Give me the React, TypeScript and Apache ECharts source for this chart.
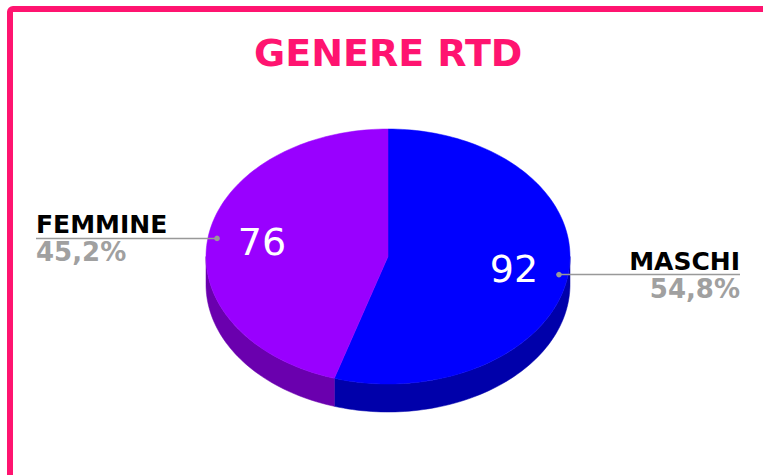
import React, { useEffect, useRef } from "react";
import * as echarts from "echarts";

const categories = ["MASCHI", "FEMMINE"];
const values = [92, 76];
const topColors = ["#0000FF", "#9900FF"];
const sideColors = ["#0000AA", "#6A00AE"];
const titleText = "GENERE RTD";

const CX = 388;
const CY = 256.5;
const RX = 182;
const RY = 127.5;
const DEPTH = 28;
const LEFT_END = 36;
const RIGHT_END = 740;

const total = values.reduce((a, b) => a + b, 0);

function pt(theta: number, r: number, dz: number): number[] {
  return [CX + r * RX * Math.sin(theta), CY - r * RY * Math.cos(theta) + dz];
}

function arc(s: number, e: number, dz: number): number[][] {
  const pts: number[][] = [];
  const n = Math.max(4, Math.ceil(((e - s) / (2 * Math.PI)) * 240));
  for (let k = 0; k <= n; k++) {
    pts.push(pt(s + ((e - s) * k) / n, 1, dz));
  }
  return pts;
}

function fmtPct(v: number): string {
  return ((v / total) * 100).toFixed(1).replace(".", ",") + "%";
}

export default function App() {
  const ref = useRef<HTMLDivElement>(null);
  useEffect(() => {
    if (!ref.current) return;
    const chart = echarts.init(ref.current, null, { renderer: "svg" });
    const renderItem = (params: any, api: any) => {
      const i = params.dataIndex;
      const v = api.value(0);
      let before = 0;
      for (let k = 0; k < i; k++) before += values[k];
      const s = (before / total) * Math.PI * 2;
      const e = ((before + v) / total) * Math.PI * 2;
      const children: any[] = [];
      const fs = Math.max(s, Math.PI / 2);
      const fe = Math.min(e, (Math.PI * 3) / 2);
      if (fe > fs) {
        const topArc = arc(fs, fe, 0);
        const botArc = arc(fs, fe, DEPTH).reverse();
        children.push({
          type: "polygon",
          z2: 1,
          shape: { points: topArc.concat(botArc) },
          style: { fill: sideColors[i], stroke: sideColors[i], lineWidth: 0.5 },
        });
      }
      children.push({
        type: "polygon",
        z2: 5,
        shape: { points: [[CX, CY]].concat(arc(s, e, 0)) },
        style: { fill: topColors[i], stroke: topColors[i], lineWidth: 0.5 },
      });
      const mid = (s + e) / 2;
      const vp = pt(mid, 0.7, 0);
      children.push({
        type: "text",
        z2: 10,
        style: {
          text: String(v),
          x: vp[0],
          y: vp[1] - 1,
          fill: "#FFFFFF",
          fontSize: 38,
          fontFamily: "DejaVu Sans",
          align: "center",
          verticalAlign: "middle",
        },
      });
      const dp = pt(mid, 0.95, 0);
      const right = Math.sin(mid) > 0;
      const endX = right ? RIGHT_END : LEFT_END;
      children.push({
        type: "line",
        z2: 10,
        shape: { x1: dp[0], y1: dp[1], x2: endX, y2: dp[1] },
        style: { stroke: "#999999", lineWidth: 1.5 },
      });
      children.push({
        type: "circle",
        z2: 11,
        shape: { cx: dp[0], cy: dp[1], r: 2.8 },
        style: { fill: "#999999" },
      });
      children.push({
        type: "text",
        z2: 10,
        style: {
          text: categories[i],
          x: endX,
          y: dp[1] - 1,
          fill: "#000000",
          fontSize: 25,
          fontWeight: "bold",
          fontFamily: "DejaVu Sans",
          align: right ? "right" : "left",
          verticalAlign: "bottom",
        },
      });
      children.push({
        type: "text",
        z2: 10,
        style: {
          text: fmtPct(v),
          x: endX,
          y: dp[1] + 1,
          fill: "#A0A0A0",
          fontSize: 26,
          fontWeight: "bold",
          fontFamily: "DejaVu Sans",
          align: right ? "right" : "left",
          verticalAlign: "top",
        },
      });
      return { type: "group", children };
    };

    chart.setOption({
      animation: false,
      backgroundColor: "#FFFFFF",
      title: {
        text: titleText,
        left: 249,
        top: 29,
        textStyle: {
          color: "#FF1470",
          fontSize: 38,
          fontWeight: "bold",
          fontFamily: "DejaVu Sans",
        },
      },
      graphic: [
        {
          type: "rect",
          shape: { x: 10, y: 9, width: 756, height: 480, r: 3 },
          style: { fill: "none", stroke: "#FF1470", lineWidth: 6 },
          z: 100,
        },
      ],
      series: [
        {
          type: "custom",
          coordinateSystem: "none",
          renderItem,
          data: values.map((v, i) => ({ value: v, name: categories[i] })),
        },
      ],
    });
    return () => chart.dispose();
  }, []);
  return (
    <div
      ref={ref}
      style={{ position: "fixed", left: 0, top: 0, width: 763, height: 475 }}
    />
  );
}
